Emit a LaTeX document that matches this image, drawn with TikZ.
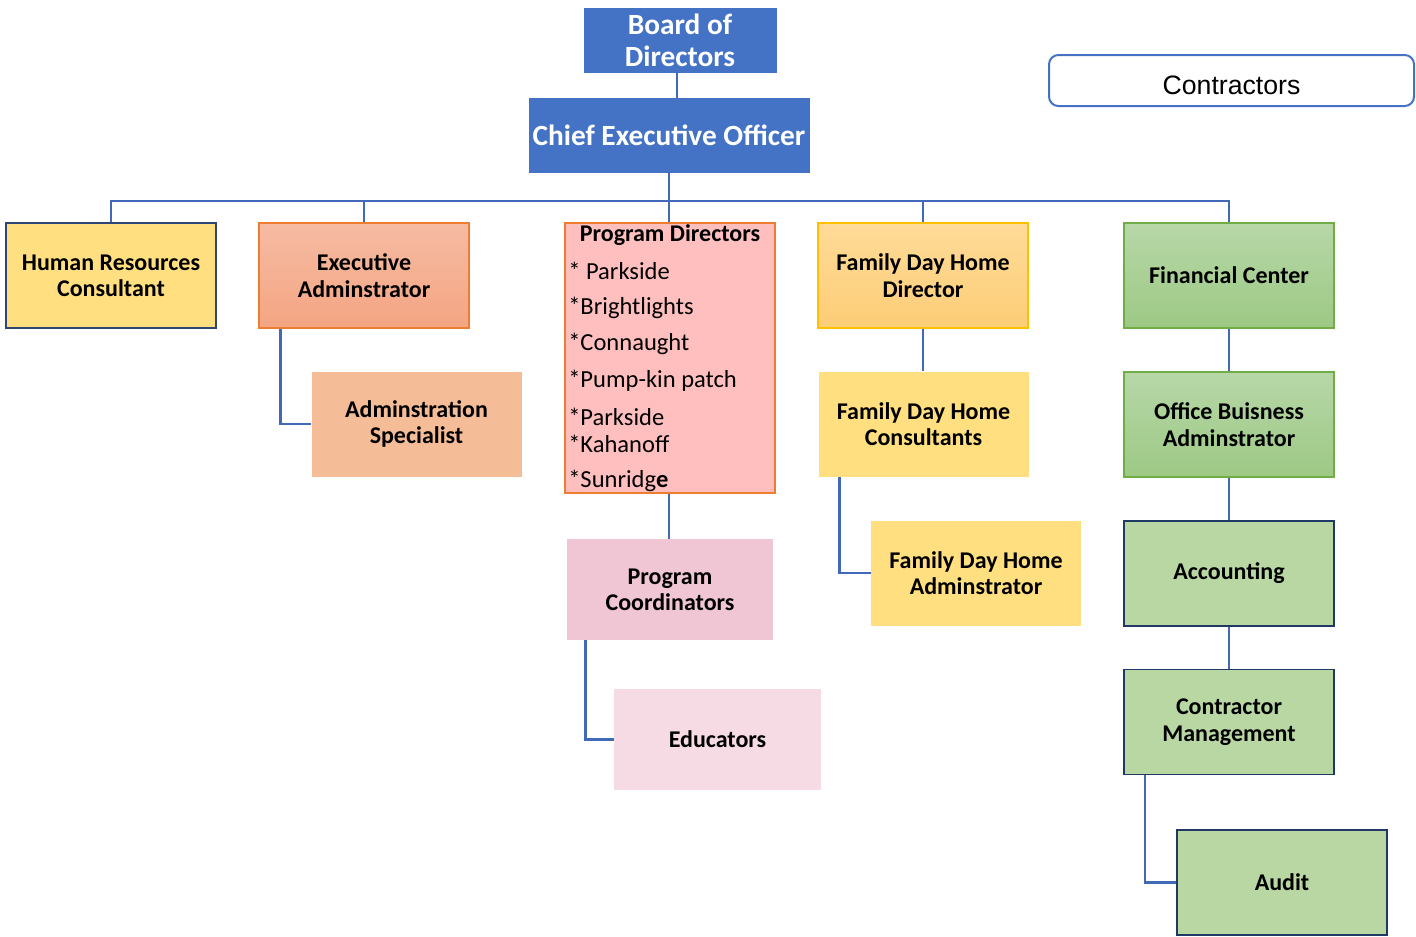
\documentclass[tikz,border=0pt]{standalone}
\usepackage{fontspec}
\setmainfont{Carlito}
\newfontfamily\arialfont{Liberation Sans}
\definecolor{cblue}{HTML}{4472C4}
\definecolor{lineblue}{HTML}{4269B8}
\definecolor{hryel}{HTML}{FFDF80}
\definecolor{navyb}{HTML}{2F4576}
\definecolor{orangeb}{HTML}{ED7D31}
\definecolor{salmonT}{HTML}{F6BBA3}
\definecolor{salmonB}{HTML}{F4A582}
\definecolor{peach}{HTML}{F5BC98}
\definecolor{pinkred}{HTML}{FFBFBF}
\definecolor{pinkc}{HTML}{F0C6D4}
\definecolor{pinke}{HTML}{F6DBE4}
\definecolor{goldT}{HTML}{FEDB98}
\definecolor{goldB}{HTML}{FDCD77}
\definecolor{goldb}{HTML}{FFC000}
\definecolor{yel}{HTML}{FFDF80}
\definecolor{grT}{HTML}{B7D7A8}
\definecolor{grB}{HTML}{9DC984}
\definecolor{grb}{HTML}{70AD47}
\definecolor{grf}{HTML}{B8D7A3}
\definecolor{navyd}{HTML}{1F3864}
\tikzset{
  box/.style={minimum width=157.5pt, minimum height=78.75pt, inner sep=2pt, align=center, font=\fontsize{18}{19.8}\selectfont\bfseries},
  conn/.style={draw=lineblue, line width=2pt},
  thinconn/.style={draw=lineblue, line width=0.9pt},
  pdtext/.style={anchor=west, inner sep=0pt, font=\fontsize{18.4}{20}\selectfont},
}
\begin{document}
\begin{tikzpicture}[x=0.75pt,y=-0.75pt]
\useasboundingbox (0,0) rectangle (1416,936);
% top
\node[box, fill=cblue, draw=cblue, minimum width=144pt, minimum height=48pt, text=white, font=\fontsize{22}{24}\selectfont\bfseries] (board) at (680,40) {Board of\\Directors};
\node[box, fill=cblue, draw=cblue, minimum width=210pt, minimum height=55.5pt, text=white, font=\fontsize{22}{24}\selectfont\bfseries] (ceo) at (669,135) {Chief Executive Officer};
\node[draw=cblue, line width=1.5pt, rounded corners=7pt, minimum width=273.75pt, minimum height=38.25pt] (contr) at (1231.5,80.5) {};
\node[inner sep=0pt, font=\arialfont\fontsize{20}{24}\selectfont] (contrtext) at (1231.5,85) {Contractors};
% level 1
\node[box, fill=hryel, draw=navyb, line width=1.4pt] (hr) at (111,275.5) {Human Resources\\Consultant};
\node[box, top color=salmonT, bottom color=salmonB, draw=orangeb, line width=0.9pt] (exec) at (364,275.5) {Executive\\Adminstrator};
\node[box, fill=peach] (adspec) at (416.5,424) {Adminstration\\Specialist};
\node[box, fill=pinkred, draw=orangeb, line width=0.9pt, minimum height=202.5pt] (pd) at (670,358) {};
\node[box, fill=pinkc, minimum width=154.5pt, minimum height=75.75pt] (pc) at (670,589.5) {Program\\Coordinators};
\node[box, fill=pinke, minimum width=155.25pt, minimum height=75.75pt] (edu) at (717.5,739.5) {Educators};
\node[box, top color=goldT, bottom color=goldB, draw=goldb, line width=0.9pt] (fdhd) at (923,275.5) {Family Day Home\\Director};
\node[box, fill=yel] (fdhc) at (923.5,424) {Family Day Home\\Consultants};
\node[box, fill=yel] (fdha) at (976,573) {Family Day Home\\Adminstrator};
\node[box, top color=grT, bottom color=grB, draw=grb, line width=0.9pt] (fc) at (1229,275.5) {Financial Center};
\node[box, top color=grT, bottom color=grB, draw=grb, line width=0.9pt] (oba) at (1229,424.5) {Office Buisness\\Adminstrator};
\node[box, fill=grf, draw=navyd, line width=1.4pt] (acc) at (1229,573.5) {Accounting};
\node[box, fill=grf, draw=navyd, line width=1.4pt] (cm) at (1229,722) {Contractor\\Management};
\node[box, fill=grf, draw=navyd, line width=1.4pt] (audit) at (1282,882.5) {Audit};
% program directors text
\node[inner sep=0pt, font=\fontsize{18}{20}\selectfont\bfseries] (pdt) at (670,235) {Program Directors};
\node[pdtext] (p1) at (568,271) {* Parkside};
\node[pdtext] (p2) at (568,308) {*Brightlights};
\node[pdtext] (p3) at (568,344) {*Connaught};
\node[pdtext] (p4) at (568,381) {*Pump-kin patch};
\node[pdtext] (p5) at (568,417) {*Parkside};
\node[pdtext] (p6) at (568,444) {*Kahanoff};
\node[pdtext] (p7) at (568,481) {*Sunridg\textbf{e}};
% connectors
\coordinate (bus) at (669,201);
\draw[thinconn] (board.south -| 677,0) -- (ceo.north -| 677,0);
\draw[conn] (ceo.south) -- (bus);
\draw[conn] (hr.north) |- (bus) -| (fc.north);
\draw[conn] (exec.north) -- (exec.north |- bus);
\draw[conn] (pd.north -| bus) -- (bus);
\draw[conn] (fdhd.north) -- (fdhd.north |- bus);
\draw[conn] ([xshift=16.5pt]exec.south west) |- (adspec.west);
\draw[conn] (pd.south -| bus) -- (pc.north -| bus);
\draw[conn] ([xshift=14.25pt]pc.south west) |- (edu.west);
\draw[conn] (fdhd.south) -- (fdhc.north -| fdhd.south);
\draw[conn] ([xshift=15.75pt]fdhc.south west) |- (fdha.west);
\draw[conn] (fc.south) -- (oba.north);
\draw[conn] (oba.south) -- (acc.north);
\draw[conn] (acc.south) -- (cm.north);
\draw[conn] ([xshift=16.5pt]cm.south west) |- (audit.west);
\end{tikzpicture}
\end{document}
